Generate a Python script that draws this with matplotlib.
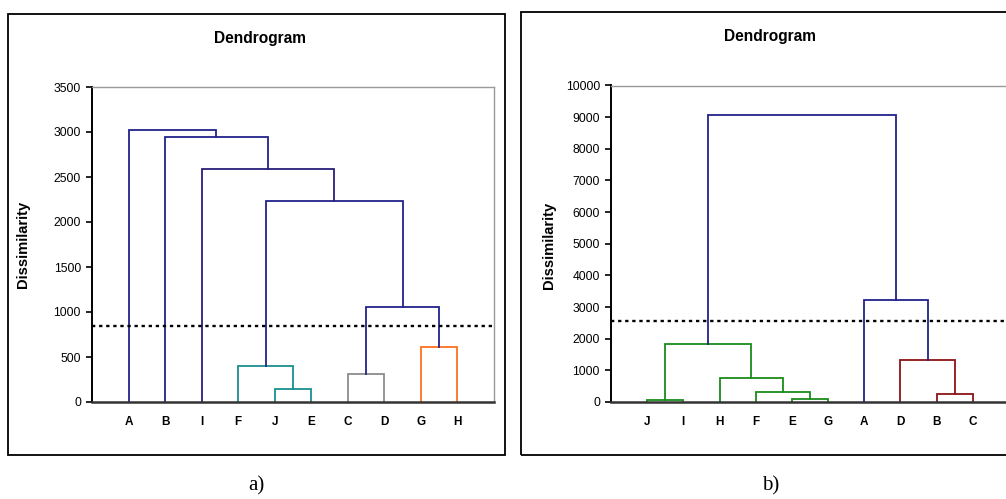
import matplotlib
matplotlib.use("Agg")
import matplotlib.pyplot as plt
from matplotlib.patches import Rectangle

plt.rcParams['font.family'] = ['Liberation Sans', 'DejaVu Sans']

# ---- Panel a) ----
leaves_a = ['A', 'B', 'I', 'F', 'J', 'E', 'C', 'D', 'G', 'H']
# each merge: (left child, right child, height); leaves are 0..9, new nodes numbered from 10
merge_left_a = [4, 3, 6, 8, 12, 11, 2, 1, 0]
merge_right_a = [5, 10, 7, 9, 13, 14, 15, 16, 17]
merge_height_a = [144, 396, 311, 607, 1056, 2237, 2589, 2948, 3026]
merge_color_a = ['#1a9090', '#1a9090', '#8c8c8c', '#ff7020',
                 '#22228a', '#22228a', '#2a1f78', '#22228a', '#22228a']
cut_a = 844
yticks_a = [0, 500, 1000, 1500, 2000, 2500, 3000, 3500]

# ---- Panel b) ----
leaves_b = ['J', 'I', 'H', 'F', 'E', 'G', 'A', 'D', 'B', 'C']
merge_left_b = [0, 4, 3, 2, 10, 8, 7, 6, 14]
merge_right_b = [1, 5, 11, 12, 13, 9, 15, 16, 17]
merge_height_b = [50, 95, 306, 759, 1833, 253, 1317, 3214, 9062]
merge_color_b = ['#1a8c1a', '#1a8c1a', '#1a8c1a', '#1a8c1a', '#1a8c1a',
                 '#8c1414', '#8c1414', '#22228a', '#22228a']
cut_b = 2550
yticks_b = [0, 1000, 2000, 3000, 4000, 5000, 6000, 7000, 8000, 9000, 10000]

W, H = 1006, 499
fig = plt.figure(figsize=(W / 100, H / 100), dpi=100)


def draw_dendrogram(ax, leaves, lefts, rights, heights, colors, cut, yticks):
    n = len(leaves)
    xpos = {i: i + 1 for i in range(n)}
    ypos = {i: 0.0 for i in range(n)}
    for k, (l, r, h, c) in enumerate(zip(lefts, rights, heights, colors)):
        xl, xr = xpos[l], xpos[r]
        ax.plot([xl, xl, xr, xr], [ypos[l], h, h, ypos[r]], color=c,
                lw=1.3, solid_joinstyle='miter', zorder=3)
        node = n + k
        xpos[node] = (xl + xr) / 2
        ypos[node] = h
    ax.axhline(cut, color='black', lw=1.7, ls=(0, (1.4, 1.6)), zorder=4)
    ax.set_xlim(0, n + 1)
    ax.set_ylim(0, yticks[-1])
    ax.set_yticks(yticks)
    ax.set_xticks(range(1, n + 1))
    ax.set_xticklabels(leaves, fontweight='bold', fontsize=8.5)
    ax.tick_params(axis='x', length=0, pad=10)
    ax.tick_params(axis='y', length=4, width=1.2, direction='out',
                   labelsize=8.7, pad=4, colors='black')
    for s in ('top', 'right'):
        ax.spines[s].set_color('#999999')
        ax.spines[s].set_linewidth(1.0)
    ax.spines['left'].set_color('black')
    ax.spines['left'].set_linewidth(1.4)
    ax.spines['bottom'].set_color('#333333')
    ax.spines['bottom'].set_linewidth(1.8)
    ax.spines['bottom'].set_zorder(5)


ax_a = fig.add_axes([92 / W, 97 / H, 402 / W, 315 / H])
draw_dendrogram(ax_a, leaves_a, merge_left_a, merge_right_a, merge_height_a,
                merge_color_a, cut_a, yticks_a)

ax_b = fig.add_axes([611 / W, 97 / H, 398 / W, 316.5 / H])
draw_dendrogram(ax_b, leaves_b, merge_left_b, merge_right_b, merge_height_b,
                merge_color_b, cut_b, yticks_b)

# outer chart frames
fig.patches.append(Rectangle((8 / W, 44 / H), 497 / W, 441 / H, fill=False,
                             edgecolor='black', lw=1.3,
                             transform=fig.transFigure, figure=fig))
fig.patches.append(Rectangle((521 / W, 44 / H), 495 / W, 443 / H, fill=False,
                             edgecolor='black', lw=1.3,
                             transform=fig.transFigure, figure=fig,
                             clip_on=False))

# titles and axis labels
fig.text(260 / W, 1 - 38 / H, 'Dendrogram', ha='center', va='center',
         fontweight='bold', fontsize=11.2)
fig.text(770 / W, 1 - 37 / H, 'Dendrogram', ha='center', va='center',
         fontweight='bold', fontsize=11.2)
fig.text(23 / W, 1 - 244.5 / H, 'Dissimilarity', ha='center', va='center',
         rotation=90, fontweight='bold', fontsize=10.6)
fig.text(549 / W, 1 - 245 / H, 'Dissimilarity', ha='center', va='center',
         rotation=90, fontweight='bold', fontsize=10.6)

# panel captions
fig.text(256 / W, 1 - 486 / H, 'a)', ha='center', va='center',
         fontsize=15, family=['Liberation Serif', 'DejaVu Serif'])
fig.text(771 / W, 1 - 486 / H, 'b)', ha='center', va='center',
         fontsize=15, family=['Liberation Serif', 'DejaVu Serif'])

fig.savefig('out.png', dpi=100)
